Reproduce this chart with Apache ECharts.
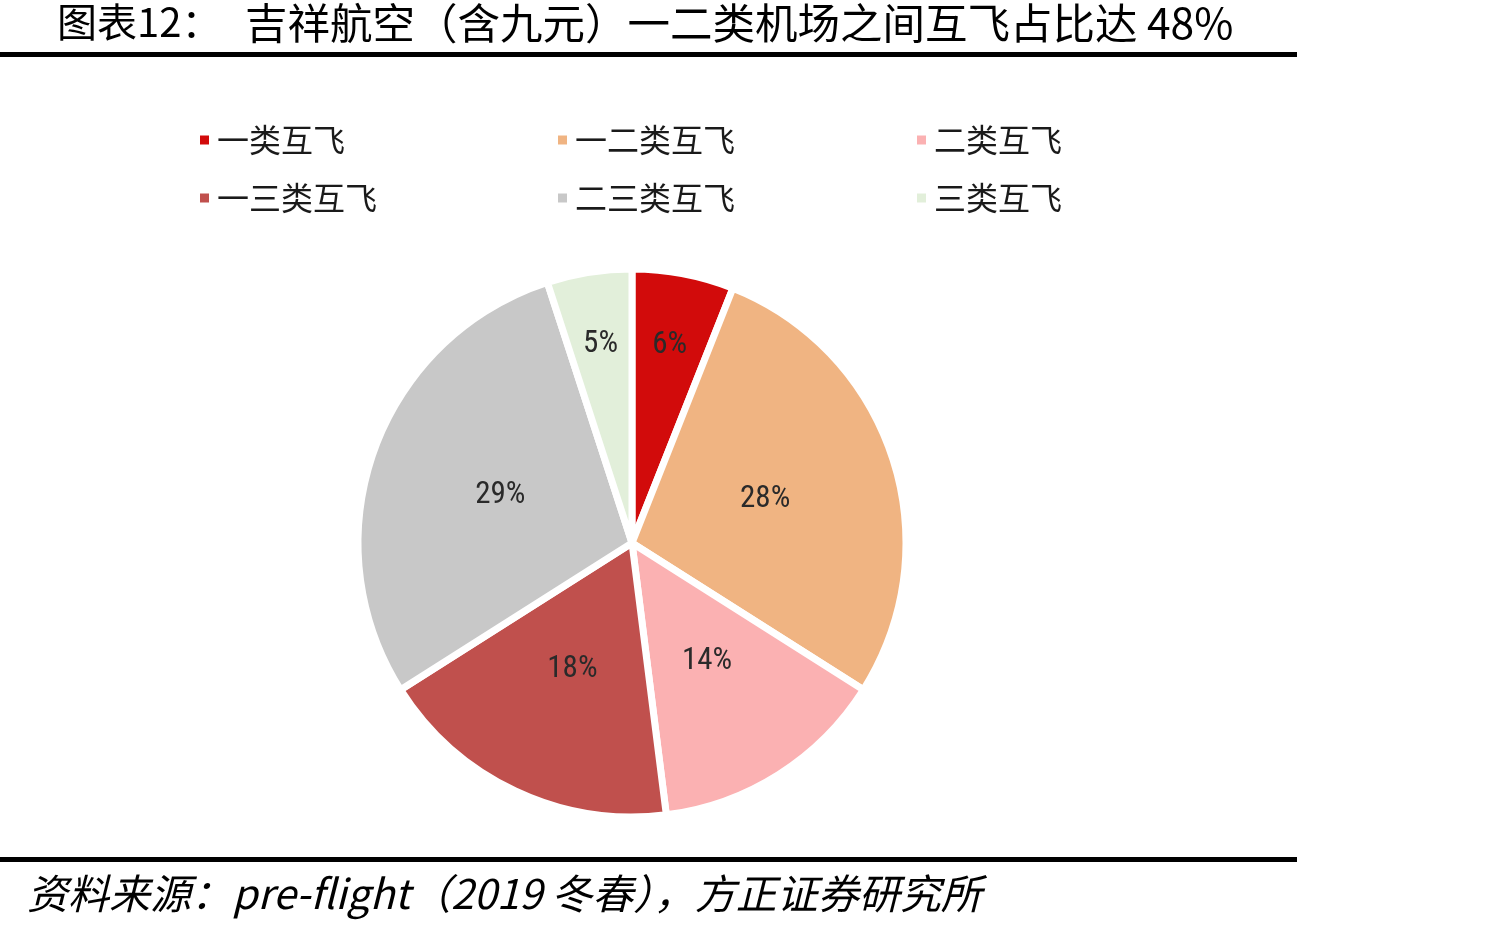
<!DOCTYPE html>
<html>
<head>
<meta charset="utf-8">
<script src="https://cdn.jsdelivr.net/npm/echarts@6/dist/echarts.min.js"></script>
<style>
html, body { margin: 0; padding: 0; background: #fff; }
#chart { width: 1512px; height: 933px; }
</style>
</head>
<body>
<div id="chart"></div>
<script>
// 数据
const categories = ['一类互飞', '一二类互飞', '二类互飞', '一三类互飞', '二三类互飞', '三类互飞'];
const shares = [6, 28, 14, 18, 29, 5];
const colors = ['#D20B0B', '#F0B482', '#FBB1B2', '#C0504D', '#C8C8C8', '#E2EFDA'];
// 小扇区标签外移
const outerLabelIdx = [0, 5];

const legendCols = [
    ['一类互飞', '一三类互飞'],
    ['一二类互飞', '二三类互飞'],
    ['二类互飞', '三类互飞']
];
const legendLeft = [193, 551, 910];

let myChart = echarts.init(document.getElementById('chart'));

const cjk = '"Noto Sans CJK SC", "Noto Sans", sans-serif';

const mainData = categories.map((name, i) => ({
    name: name,
    value: shares[i],
    itemStyle: { color: colors[i] },
    label: { show: outerLabelIdx.indexOf(i) < 0 }
}));
const overlayData = categories.map((name, i) => ({
    name: name,
    value: shares[i],
    itemStyle: { color: 'rgba(0,0,0,0)' },
    label: { show: outerLabelIdx.indexOf(i) >= 0 }
}));

const labelStyle = {
    position: 'inside',
    formatter: '{d}%',
    fontFamily: '"Liberation Sans Narrow", "Roboto Condensed", Roboto, sans-serif',
    fontSize: 31,
    color: '#2a2a2a'
};

myChart.setOption({
    animation: false,
    legend: legendCols.map((col, k) => ({
        orient: 'vertical',
        left: legendLeft[k],
        top: 119,
        itemGap: 26,
        itemWidth: 11,
        itemHeight: 11,
        icon: 'rect',
        selectedMode: false,
        data: col,
        textStyle: {
            fontFamily: cjk,
            fontSize: 32,
            color: '#1a1a1a',
            padding: [0, 0, 0, 2]
        }
    })),
    graphic: [
        {
            type: 'text', left: 57, top: 2,
            style: { text: '图表12：', font: '40px ' + cjk, fill: '#000' }
        },
        {
            type: 'text', left: 245, top: 2,
            style: { text: '吉祥航空（含九元）一二类机场之间互飞占比达 48%', font: '42.5px ' + cjk, fill: '#000' }
        },
        {
            type: 'rect', left: 0, top: 52,
            shape: { width: 1297, height: 5 },
            style: { fill: '#000' }
        },
        {
            type: 'rect', left: 0, top: 857,
            shape: { width: 1297, height: 5 },
            style: { fill: '#000' }
        },
        {
            type: 'text', left: 27, top: 873,
            style: { text: '资料来源：pre-flight（2019 冬春），方正证券研究所', font: 'italic 41px ' + cjk, fill: '#000' }
        }
    ],
    series: [
        {
            name: 'main',
            type: 'pie',
            center: [632, 543],
            radius: [0, 274],
            startAngle: 90,
            clockwise: true,
            silent: true,
            itemStyle: { borderColor: '#fff', borderWidth: 7 },
            label: labelStyle,
            labelLine: { show: false },
            data: mainData
        },
        {
            name: 'overlay',
            type: 'pie',
            center: [632, 543],
            radius: [122, 274],
            startAngle: 90,
            clockwise: true,
            silent: true,
            label: labelStyle,
            labelLine: { show: false },
            data: overlayData
        }
    ]
});

window.addEventListener('resize', function () {
    myChart.resize();
});
</script>
</body>
</html>
